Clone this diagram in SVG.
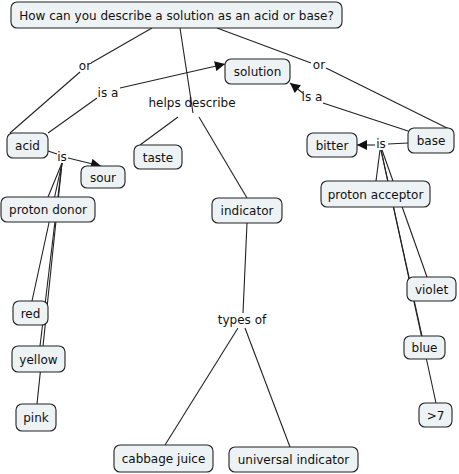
<svg xmlns="http://www.w3.org/2000/svg" width="459" height="474" viewBox="0 0 459 474">
<defs>
<style>
.n rect{fill:#edf2f5;stroke:#222;stroke-width:1.1}
text{font-family:"DejaVu Sans",Verdana,sans-serif;font-size:12px;fill:#111;text-anchor:middle}
.c line{stroke:#222;stroke-width:1.1}
</style>
<marker id="arr" viewBox="0 0 10 10" refX="10" refY="5" markerWidth="11" markerHeight="10" orient="auto" markerUnits="userSpaceOnUse"><path d="M0,0 L10,5 L0,10 z" fill="#111"/></marker>
</defs>
<rect width="459" height="474" fill="#fff"/>
<g id="connectors" class="c">
<line x1="152" y1="28" x2="91" y2="63"/>
<line x1="80" y1="72" x2="10" y2="133"/>
<line x1="48" y1="133" x2="97" y2="98"/>
<line x1="120" y1="88" x2="225" y2="64" marker-end="url(#arr)"/>
<line x1="180" y1="28" x2="193" y2="113"/>
<line x1="178" y1="117" x2="140" y2="145"/>
<line x1="199" y1="117" x2="247" y2="198"/>
<line x1="217" y1="28" x2="311" y2="63"/>
<line x1="326" y1="68" x2="451" y2="130"/>
<line x1="408" y1="131" x2="323" y2="103"/>
<line x1="304" y1="94" x2="290" y2="83" marker-end="url(#arr)"/>
<line x1="408" y1="143" x2="388" y2="144"/>
<line x1="375" y1="145" x2="357" y2="145" marker-end="url(#arr)"/>
<line x1="380" y1="150" x2="376" y2="181"/>
<line x1="382" y1="150" x2="427" y2="277"/>
<line x1="381" y1="150" x2="422" y2="336"/>
<line x1="381" y1="150" x2="436" y2="403"/>
<line x1="48" y1="151" x2="57" y2="154"/>
<line x1="68" y1="158" x2="101" y2="166" marker-end="url(#arr)"/>
<line x1="62" y1="163" x2="48" y2="197"/>
<line x1="62" y1="163" x2="32" y2="301"/>
<line x1="62" y1="163" x2="40" y2="346"/>
<line x1="62" y1="163" x2="37" y2="404"/>
<line x1="247" y1="223" x2="243" y2="313"/>
<line x1="238" y1="328" x2="165" y2="445"/>
<line x1="245" y1="328" x2="290" y2="447"/>
</g>
<g id="labels">
<text x="85" y="70">or</text>
<text x="108" y="97">is a</text>
<text x="192" y="107">helps describe</text>
<text x="319" y="69">or</text>
<text x="312" y="101">is a</text>
<text x="62" y="161">is</text>
<text x="381" y="148">is</text>
<text x="242" y="324">types of</text>
</g>
<g id="title" class="n"><rect x="11" y="2" width="331" height="26" rx="6"/><text x="176.5" y="19.5">How can you describe a solution as an acid or base?</text></g>
<g id="solution" class="n"><rect x="225" y="59" width="65" height="25" rx="6"/><text x="257.5" y="76">solution</text></g>
<g id="acid" class="n"><rect x="7" y="133" width="41" height="25" rx="6"/><text x="27.5" y="150">acid</text></g>
<g id="taste" class="n"><rect x="134" y="145" width="48" height="24" rx="6"/><text x="158" y="161.5">taste</text></g>
<g id="sour" class="n"><rect x="81" y="166" width="44" height="22" rx="6"/><text x="103" y="181.5">sour</text></g>
<g id="proton-donor" class="n"><rect x="1" y="197" width="94" height="25" rx="6"/><text x="48" y="214">proton donor</text></g>
<g id="indicator" class="n"><rect x="212" y="198" width="70" height="25" rx="6"/><text x="247" y="215">indicator</text></g>
<g id="bitter" class="n"><rect x="307" y="133" width="50" height="24" rx="6"/><text x="332" y="149.5">bitter</text></g>
<g id="base" class="n"><rect x="408" y="128" width="46" height="25" rx="6"/><text x="431" y="145">base</text></g>
<g id="proton-acceptor" class="n"><rect x="321" y="181" width="109" height="26" rx="6"/><text x="375.5" y="198.5">proton acceptor</text></g>
<g id="violet" class="n"><rect x="407" y="277" width="49" height="24" rx="6"/><text x="431.5" y="293.5">violet</text></g>
<g id="red" class="n"><rect x="13" y="301" width="35" height="24" rx="6"/><text x="30.5" y="317.5">red</text></g>
<g id="blue" class="n"><rect x="404" y="336" width="41" height="23" rx="6"/><text x="424.5" y="352">blue</text></g>
<g id="yellow" class="n"><rect x="12" y="346" width="53" height="26" rx="6"/><text x="38.5" y="363.5">yellow</text></g>
<g id="pink" class="n"><rect x="16" y="404" width="40" height="27" rx="6"/><text x="36" y="422">pink</text></g>
<g id="gt7" class="n"><rect x="419" y="403" width="33" height="24" rx="6"/><text x="435.5" y="419.5">&gt;7</text></g>
<g id="cabbage-juice" class="n"><rect x="114" y="445" width="99" height="27" rx="6"/><text x="163.5" y="462.5">cabbage juice</text></g>
<g id="universal-indicator" class="n"><rect x="229" y="447" width="129" height="25" rx="6"/><text x="293.5" y="464">universal indicator</text></g>
</svg>
